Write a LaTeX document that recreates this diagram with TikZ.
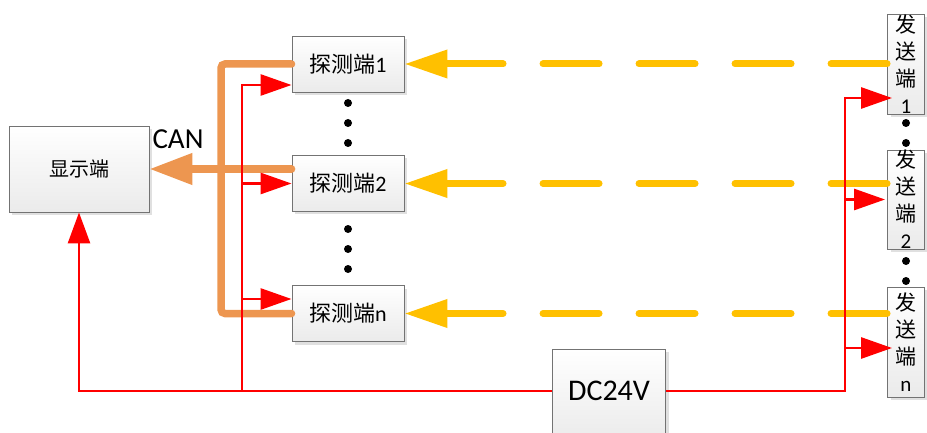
\documentclass[tikz,border=0pt]{standalone}
\usepackage{fontspec}
\setmainfont{Carlito}
\newfontfamily\cjk{Noto Sans CJK SC}
\usetikzlibrary{arrows.meta, positioning, shadows}
\definecolor{canorange}{RGB}{237,150,80}
\definecolor{sigyellow}{RGB}{255,192,0}
\definecolor{pwrred}{RGB}{255,0,0}
\definecolor{boxedge}{RGB}{115,115,115}
\newcommand\dispfont{\fontsize{20}{24}\selectfont}
\newcommand\detfont{\fontsize{22}{26}\selectfont}
\newcommand\txfont{\fontsize{21}{27}\selectfont}
\tikzset{
  box/.style={rectangle, draw=boxedge, line width=0.9pt,
    top color=white, bottom color=black!8, inner sep=0pt, align=center,
    drop shadow={shadow xshift=3pt, shadow yshift=-3pt, fill=black!12, opacity=1}},
  canline/.style={line width=7.5pt, color=canorange, line cap=round},
  pwrline/.style={line width=2.8pt, color=pwrred},
  pwrarrow/.style={pwrline, -{Triangle[length=31pt, width=21pt]}},
  sigline/.style={line width=7pt, color=sigyellow, line cap=round,
    dash pattern=on 56pt off 40pt, -{Triangle[length=43pt, width=27pt]}}
}

\begin{document}
\begin{tikzpicture}[x=1pt, y=-1pt]
  \useasboundingbox (0,0) rectangle (927,433);

  % display, detectors and senders
  \node[box, minimum width=140pt, minimum height=86pt, font=\dispfont\cjk] (disp) at (79,169) {显示端};
  \node[box, minimum width=112pt, minimum height=56pt, font=\detfont] (det1) at (348,64) {{\cjk 探测端}1};
  \node[box, minimum width=112pt, minimum height=56pt, font=\detfont] (det2) at (348,183.5) {{\cjk 探测端}2};
  \node[box, minimum width=112pt, minimum height=56pt, font=\detfont] (detn) at (348,313.5) {{\cjk 探测端}n};
  \node[box, minimum width=37pt, minimum height=100pt, font=\txfont\cjk] (tx1) at (906,64) {发\\送\\端\\{\rmfamily 1}};
  \node[box, minimum width=37pt, minimum height=99pt, font=\txfont\cjk] (tx2) at (906,199.5) {发\\送\\端\\{\rmfamily 2}};
  \node[box, minimum width=37pt, minimum height=110pt, font=\txfont\cjk] (txn) at (906,342) {发\\送\\端\\{\rmfamily n}};
  \node[box, minimum width=113pt, minimum height=92pt, text depth=8pt, font=\fontsize{30}{34}\selectfont] (dc) at (609,395) {DC24V};
  \node[font=\fontsize{29}{32}\selectfont, inner sep=0pt] (canlbl) at (178,139) {CAN};

  % dots
  \foreach \y in {103,123,143,229,249,269}
    \fill (348,\y) circle (4pt);
  \foreach \y in {123,143,261,281}
    \fill (906,\y) circle (4pt);

  % signal links
  \draw[sigline] (tx1.west) -- (det1.east);
  \draw[sigline] (tx2.west |- det2.east) -- (det2.east);
  \draw[sigline] (txn.west |- detn.east) -- (detn.east);

  % CAN bus
  \coordinate (cbus) at (221,200);
  \draw[canline, rounded corners=4pt] (det1.west) -| (cbus |- detn.west) -- (detn.west);
  \draw[canline, -{Triangle[length=43pt, width=30pt]}] (det2.west |- disp.east) -- (disp.east);

  % power
  \coordinate (lbus) at (242,391);
  \coordinate (rbus) at (845,391);
  \draw[pwrline, -{Triangle[length=31pt, width=22pt]}] ([yshift=4pt]dc.west) -| (disp.south);
  \draw[pwrarrow] (lbus) |- ([yshift=-21pt]det1.west);
  \draw[pwrarrow] (lbus |- det2.west) -- (det2.west);
  \draw[pwrarrow] (lbus |- 0,299) -- ([yshift=14.5pt]detn.west);
  \draw[pwrarrow] ([yshift=4pt]dc.east) -- (rbus) |- ([xshift=5pt, yshift=-34pt]tx1.west);
  \draw[pwrarrow] (rbus |- tx2.west) -- ([xshift=-2pt]tx2.west);
  \draw[pwrarrow] (rbus |- 0,348) -- ([xshift=5pt, yshift=-6pt]txn.west);
\end{tikzpicture}
\end{document}
